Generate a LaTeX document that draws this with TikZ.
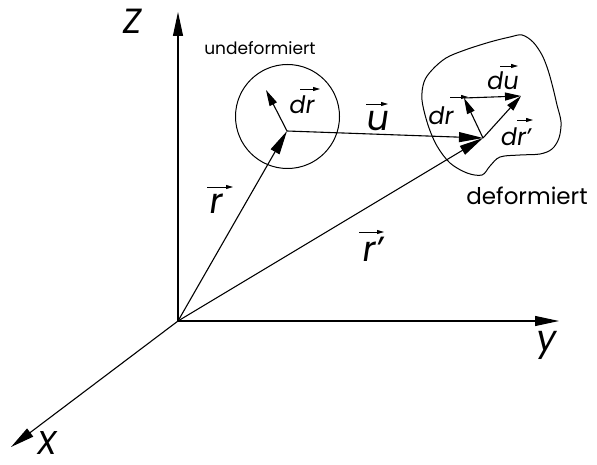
\documentclass[tikz,border=0pt]{standalone}
\usepackage{fontspec}
\setmainfont{Poppins}
\newfontfamily\slfont[FakeSlant=0.15]{Poppins}
\usetikzlibrary{arrows.meta}
\tikzset{
  axis/.style={line width=1.1pt,-{Triangle[length=24pt,width=10pt]}},
  bigvec/.style={line width=1.1pt,-{Triangle[length=24pt,width=10pt]}},
  smallvec/.style={line width=1.1pt,-{Triangle[length=16pt,width=8pt]}},
  overarr/.style={line width=0.9pt,-{Triangle[length=7pt,width=4pt]}},
  biglab/.style={inner sep=0pt,font=\slfont\fontsize{35}{40}\selectfont},
  smalllab/.style={inner sep=0pt,font=\slfont\fontsize{24}{28}\selectfont},
  txt/.style={inner sep=0pt,font=\fontsize{17}{20}\selectfont},
  outline/.style={line width=1pt}
}
\begin{document}
\begin{tikzpicture}[x=1pt,y=-1pt]
\useasboundingbox (0,0) rectangle (597,465);
% points
\coordinate (O) at (178,321);
\coordinate (Zt) at (178,12);
\coordinate (Yt) at (559,321);
\coordinate (Xt) at (11,447);
\coordinate (P) at (287,131);
\coordinate (Pp) at (483,138);
\coordinate (D1) at (266,90);
\coordinate (A) at (464,98);
\coordinate (B) at (521,96);
% circle and blob
\draw[outline] (287.5,116.5) circle (52);
\draw[outline] plot[smooth cycle, tension=0.55] coordinates {
 (522,35) (533,42) (542,55) (548,70) (553,88) (557,105) (561,122) (559,138)
 (552,149) (540,154) (520,155) (500,157) (490,166) (482,175) (467,173)
 (450,163) (437,146) (428,125) (422,100) (424,82) (432,70) (446,58)
 (465,50) (490,42) (510,37)};
% axes
\draw[axis] (O) -- (Zt);
\draw[axis] (O) -- (Yt);
\draw[axis] (O) -- (Xt);
% vectors
\draw[bigvec] (O) -- (P);
\draw[bigvec] (O) -- (Pp);
\draw[bigvec] (P) -- (Pp);
\draw[smallvec] (P) -- (D1);
\draw[smallvec] (Pp) -- (A);
\draw[smallvec] (Pp) -- (B);
\draw[smallvec] (A) -- (B);
% labels
\node[biglab] (lz) at (131,21) {Z};
\node[biglab] (ly) at (545,345) {y};
\node[biglab,font=\slfont\fontsize{33}{38}\selectfont] (lx) at (46,443) {X};
\node[txt] (lund) at (260,48) {undeformiert};
\node[txt,font=\fontsize{23}{27}\selectfont] (ldef) at (527,196) {deformiert};
\node[biglab] (lr) at (215,204) {r};
\draw[overarr] (207,187) -- (233,187);
\node[biglab] (lu) at (377,121) {u};
\draw[overarr] (366,104) -- (388,104);
\node[biglab] (lrp) at (372,249) {r’};
\draw[overarr] (359,232) -- (384,232);
\node[smalllab] (ldr1) at (301,105) {dr};
\draw[overarr] (300,89) -- (320,89);
\node[smalllab] (ldu) at (502,81) {du};
\draw[overarr] (500,66) -- (518,66);
\node[smalllab] (ldr2) at (440,116) {dr};
\draw[overarr] (450,97) -- (468,97);
\node[smalllab] (ldrp) at (515,137) {dr’};
\draw[overarr] (517,120) -- (533,120);
\end{tikzpicture}
\end{document}
